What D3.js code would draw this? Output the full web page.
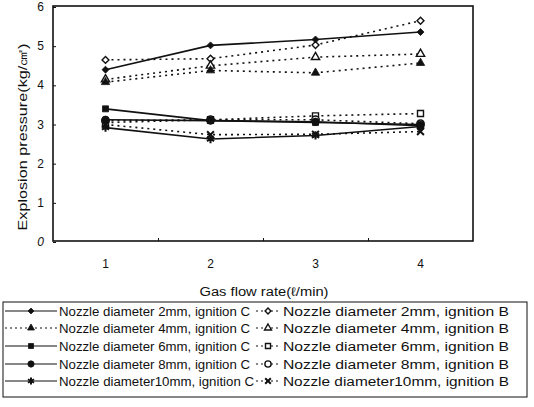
<!DOCTYPE html>
<html><head><meta charset="utf-8">
<script src="https://cdn.jsdelivr.net/npm/d3@7"></script>
<style>body{margin:0;background:#fff}svg{display:block}text{font-family:"Liberation Sans",Arial,sans-serif;fill:#111}</style>
</head><body><svg id="c" width="534" height="407"></svg>
<script>
const categories = ["1","2","3","4"];
const yTicks = [0,1,2,3,4,5,6];
const seriesNames = [
  "Nozzle diameter 2mm, ignition C","Nozzle diameter 4mm, ignition C","Nozzle diameter 6mm, ignition C",
  "Nozzle diameter 8mm, ignition C","Nozzle diameter10mm, ignition C",
  "Nozzle diameter 2mm, ignition B","Nozzle diameter 4mm, ignition B","Nozzle diameter 6mm, ignition B",
  "Nozzle diameter 8mm, ignition B","Nozzle diameter10mm, ignition B"];
const c2 = [4.40, 5.02, 5.17, 5.36];
const c4 = [4.08, 4.38, 4.32, 4.57];
const c6 = [3.40, 3.10, 3.05, 3.00];
const c8 = [3.12, 3.10, 3.07, 2.97];
const c10 = [2.92, 2.63, 2.72, 2.95];
const b2 = [4.65, 4.68, 5.03, 5.65];
const b4 = [4.15, 4.50, 4.72, 4.80];
const b6 = [3.05, 3.12, 3.22, 3.28];
const b8 = [3.10, 3.12, 3.12, 3.02];
const b10 = [3.00, 2.74, 2.75, 2.82];

const values = [c2,c4,c6,c8,c10,b2,b4,b6,b8,b10];
const markers = ["diamond","triangle","square","circle","star","diamond","triangle","square","circle","x"];
const filled = [true,true,true,true,true,false,false,false,false,false];
const dotted = [false,true,false,false,false,true,true,true,true,true];

const svg = d3.select("#c");
const L=53,R=473,T=6,B=241;
const x = d3.scaleBand().domain(categories).range([L,R]);
const y = d3.scaleLinear().domain([0,6]).range([B+1,T+1]);

svg.append("rect").attr("x",L).attr("y",T).attr("width",R-L).attr("height",B-T)
  .attr("fill","none").attr("stroke","#111").attr("stroke-width",1.6);

const ya = svg.append("g").attr("transform",`translate(${L},0)`)
  .call(d3.axisRight(y).tickValues(yTicks).tickSize(3).tickFormat(""));
ya.select(".domain").remove();
ya.selectAll("line").attr("stroke","#111");
svg.selectAll(".ylab").data(yTicks).join("text").attr("class","ylab")
  .attr("x",44).attr("y",d=>y(d)+4).attr("text-anchor","end").attr("font-size",12)
  .attr("font-style",d=>d===0?"italic":"normal").text(d=>d);

const xa = svg.append("g").attr("transform",`translate(0,${B})`)
  .call(d3.axisTop(d3.scaleLinear().domain([0,4]).range([L,R])).tickValues([1,2,3]).tickSize(3).tickFormat(""));
xa.select(".domain").remove();
xa.selectAll("line").attr("stroke","#111");
svg.selectAll(".xlab").data(categories).join("text").attr("class","xlab")
  .attr("x",d=>x(d)+x.bandwidth()/2).attr("y",268).attr("text-anchor","middle").attr("font-size",12).text(d=>d);

svg.append("text").attr("x",264).attr("y",296).attr("text-anchor","middle").attr("font-size",12.5)
  .attr("textLength",129).attr("lengthAdjust","spacingAndGlyphs").text("Gas flow rate(ℓ/min)");
svg.append("text").attr("transform","translate(27,137) rotate(-90)").attr("text-anchor","middle")
  .attr("font-size",12.5).attr("textLength",187).attr("lengthAdjust","spacingAndGlyphs").text("Explosion pressure(kg/㎠)");

function sym(type,k){
  const m = {diamond:[d3.symbolSquare,24],triangle:[d3.symbolTriangle,30],square:[d3.symbolSquare,36],
    circle:[d3.symbolCircle,44],star:[d3.symbolAsterisk,48],x:[d3.symbolX,32]};
  return d3.symbol(m[type][0],m[type][1]*k)();
}
function drawMarker(g,i,cx,cy,k){
  const t = markers[i];
  const rot = t==="diamond"?" rotate(45)":"";
  const p = g.append("path").attr("d",sym(t,k)).attr("transform",`translate(${cx},${cy})${rot}`);
  if(t==="star"||t==="x"){ p.attr("fill","none").attr("stroke","#111").attr("stroke-width",2); }
  else if(filled[i]){ p.attr("fill","#111").attr("stroke","#111").attr("stroke-width",0.8); }
  else { p.attr("fill","#fff").attr("stroke","#111").attr("stroke-width",1.4); }
}

const line = d3.line().x((d,j)=>x(categories[j])+x.bandwidth()/2).y(d=>y(d));
const order = [5,6,7,8,9,1,0,2,3,4];
order.forEach(i=>{
  svg.append("path").attr("d",line(values[i])).attr("fill","none").attr("stroke","#111")
    .attr("stroke-width",1.6).attr("stroke-dasharray",dotted[i]?"2,4":null);
});
order.forEach(i=>{
  const g = svg.append("g");
  values[i].forEach((v,j)=>drawMarker(g,i,x(categories[j])+x.bandwidth()/2,y(v),1));
});

svg.append("rect").attr("x",3).attr("y",302).attr("width",524).attr("height",95)
  .attr("fill","none").attr("stroke","#111").attr("stroke-width",1);
const rowY = [311,328,346,364,381];
seriesNames.forEach((name,i)=>{
  const col = i<5?0:1, r = i%5;
  const x0 = col===0?5:256, x1 = col===0?57:280, tx = col===0?59:283;
  const cy = rowY[r];
  const g = svg.append("g");
  g.append("line").attr("x1",x0).attr("x2",x1).attr("y1",cy).attr("y2",cy).attr("stroke","#111")
    .attr("stroke-width",1.2).attr("stroke-dasharray",dotted[i]?"2,3":null);
  drawMarker(g,i,(x0+x1)/2,cy,0.7);
  g.append("text").attr("x",tx).attr("y",cy+4.5).attr("font-size",12.5)
    .attr("textLength",col===0?(r===4?195:191):226).attr("lengthAdjust","spacingAndGlyphs").text(name);
});
</script></body></html>
